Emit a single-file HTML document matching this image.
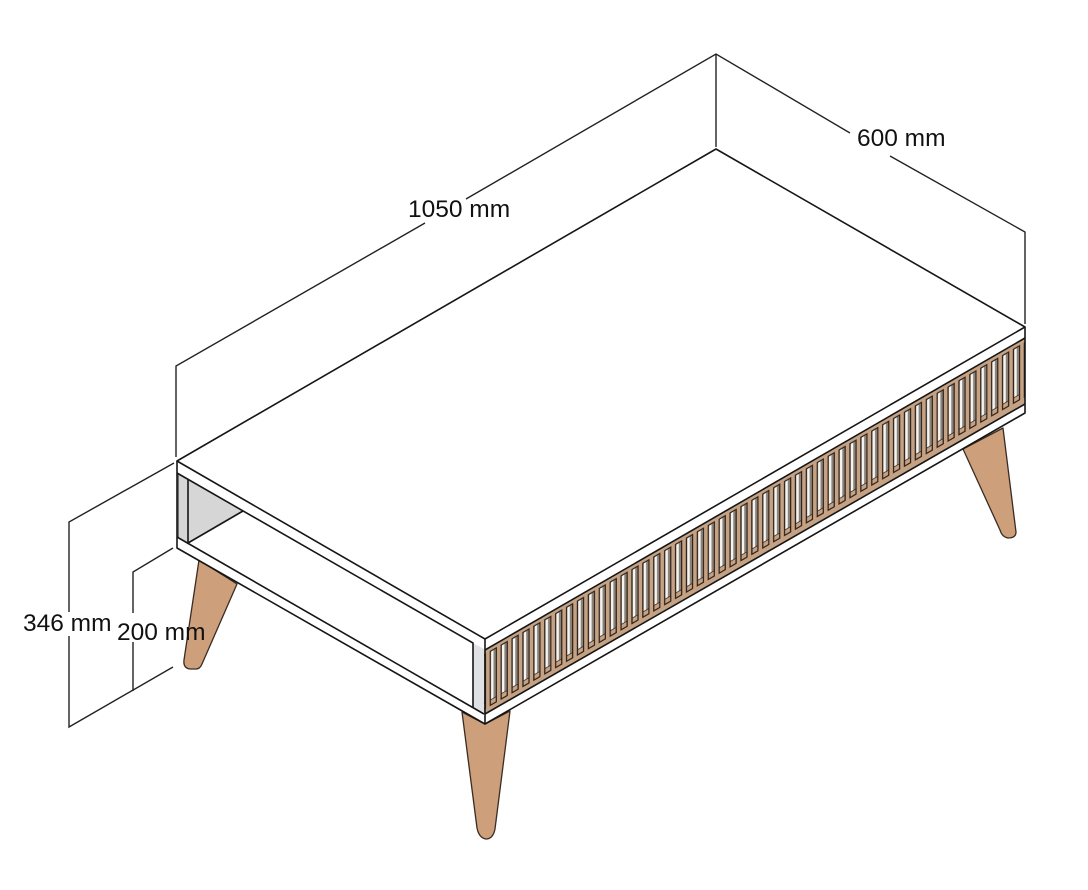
<!DOCTYPE html>
<html>
<head>
<meta charset="utf-8">
<style>
html,body{margin:0;padding:0;background:#fff;width:1088px;height:890px;overflow:hidden}
svg{display:block}
text{font-family:"Liberation Sans",sans-serif;font-size:24.500px;fill:#111}
</style>
</head>
<body>
<svg width="1088" height="890" viewBox="0 0 1088 890" xmlns="http://www.w3.org/2000/svg">
<defs>
<pattern id="slats" width="10.9" height="300" patternUnits="userSpaceOnUse" patternTransform="translate(489.500 651) skewY(-30)">
<rect x="0.800" y="0.800" width="6" height="54" fill="#f6f4f1" stroke="#2a2018" stroke-width="1.300"/>
<rect x="4" y="1.500" width="2.300" height="48" fill="#8a8279"/>
<rect x="1" y="49.500" width="5.600" height="5" fill="#c6a284" stroke="#2a2018" stroke-width="0.800"/>
</pattern>
</defs>

<!-- dimension lines -->
<g stroke="#222" stroke-width="1.400" fill="none">
<path d="M176 457V366L425 223"/>
<path d="M466 199L716 54L850 133"/>
<path d="M716 54V147"/>
<path d="M890 156L1025 232V324"/>
<path d="M174 463L69 522V612"/>
<path d="M69 636V727L173 667"/>
<path d="M173 548L133 572V613"/>
<path d="M133 642V691"/>
</g>

<!-- legs -->
<g fill="#cd9f7b" stroke="#3a2c22" stroke-width="1.300" stroke-linejoin="round">
<path d="M199 560L184 660Q183 668 190 669L196 669Q200 669 202 664L237 584Z"/>
<path d="M462 712L477 828Q479 838 486 839Q493 839 495 829L510 711L485 724Z"/>
<path d="M963 449L1000 530Q1002 537 1008 538Q1016 538 1016 532L1003 428Z"/>
</g>

<!-- table body -->
<path d="M177 461L716 149L1025 327V413L485 724L177 548Z" fill="#fff"/>
<!-- left interior -->
<path d="M177 473L188 479L243 511L188 543L177 537Z" fill="#d6d6d6"/>
<path d="M176.500 472L179 473.500V538.500L176.500 537Z" fill="#707070"/>
<!-- interior right strip -->
<path d="M473 643L484 649V713L473 707Z" fill="#dfe1e4"/>
<!-- front panel -->
<path d="M484 650L1025 338V404L484 714Z" fill="#c6a284"/>
<path d="M484 650L1025 338V404L484 714Z" fill="url(#slats)"/>

<g stroke="#161616" stroke-width="1.600" fill="none" stroke-linejoin="round">
<path d="M177 461L716 149L1025 327L485 639Z"/>
<path d="M177 461V548L485 724L1025 413V327"/>
<path d="M485 639V724"/>
<path d="M485 650L1025 338"/>
<path d="M485 714L1025 404"/>
<path d="M177 473L473 643V708"/>
<path d="M177 537L484 714"/>
<path d="M188 479V543L243 511"/>
</g>

<!-- labels -->
<text x="408" y="217">1050 mm</text>
<text x="857" y="146">600 mm</text>
<text x="23" y="631">346 mm</text>
<text x="117" y="640">200 mm</text>
</svg>
</body>
</html>
